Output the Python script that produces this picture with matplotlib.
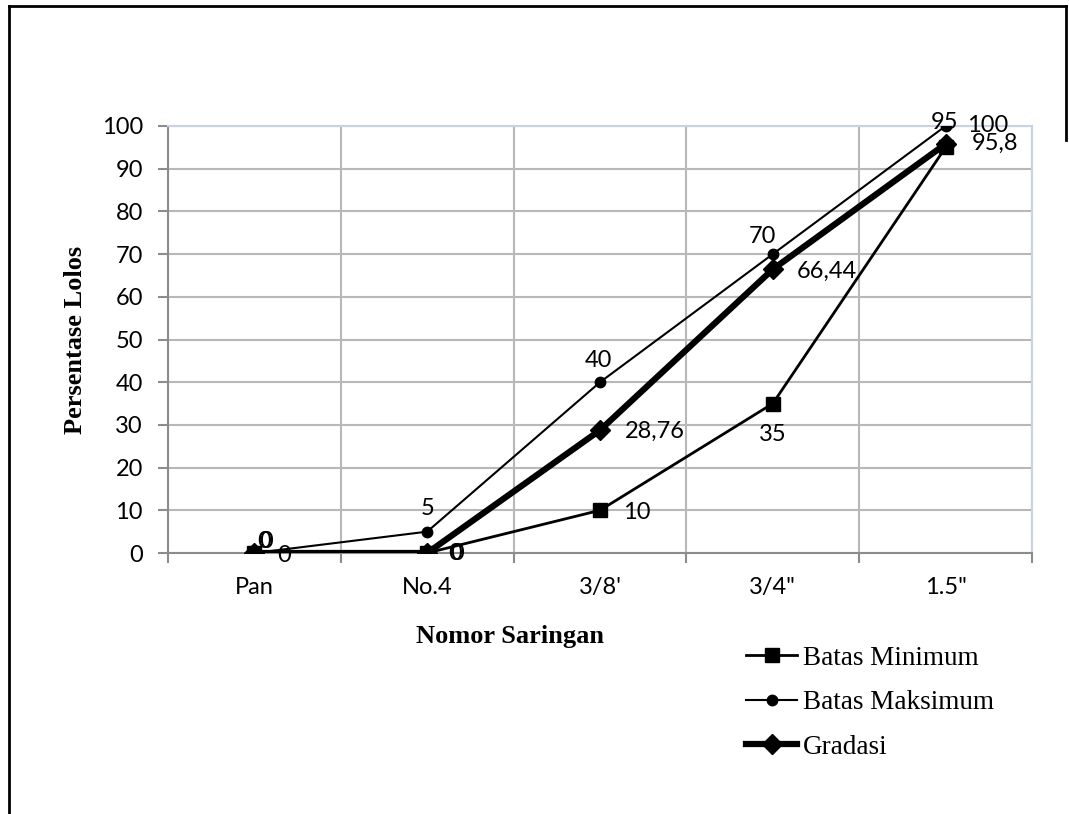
import matplotlib.pyplot as plt
from matplotlib.lines import Line2D

# ukuran saringan dan persentase lolos
saringan = ["Pan", "No.4", "3/8'", "3/4\"", "1.5\""]
batas_min = [0, 0, 10, 35, 95]
batas_max = [0, 5, 40, 70, 100]
gradasi = [0, 0, 28.76, 66.44, 95.8]

lbl_min = ["0", "0", "10", "35", "95"]
lbl_max = ["0", "5", "40", "70", "100"]
lbl_grad = ["0", "0", "28,76", "66,44", "95,8"]

SANS = "Lato"
SERIF = "Liberation Serif"
FS = 17

fig = plt.figure(figsize=(10.69, 8.14), dpi=100)
ax = fig.add_axes([168/1069, 1-553/814, 864/1069, 427/814])

x = list(range(len(saringan)))
ax.plot(x, batas_min, color="black", lw=2, marker="s", ms=10, label="Batas Minimum", zorder=4)
ax.plot(x, batas_max, color="black", lw=1.5, marker="o", ms=7.5, label="Batas Maksimum", zorder=4)
ax.plot(x, gradasi, color="black", lw=4.5, marker="D", ms=10, label="Gradasi", zorder=5)

# posisi label (offset pixel)
off_min = [(30, -2), (28, 0), (37, -2), (0, -31), (-1, 25)]
off_max = [(10, 12), (0, 23), (-2, 22), (-10, 18), (42, 1)]
off_grad = [(12, 12), (30, 0), (55, -1), (54, -2), (49, 1)]
for vals, lbls, offs in [(batas_min, lbl_min, off_min), (batas_max, lbl_max, off_max),
                         (gradasi, lbl_grad, off_grad)]:
    for i in x:
        ax.annotate(lbls[i], (i, vals[i]), xytext=offs[i], textcoords="offset pixels",
                    ha="center", va="center", fontsize=FS, family=SANS, zorder=6)

ax.set_xlim(-0.5, 4.5)
ax.set_ylim(0, 100)
ax.set_yticks(range(0, 101, 10))
ax.set_xticks([i - 0.5 for i in range(6)])
ax.set_xticklabels([])
ax.set_xticks(x, minor=True)
ax.set_xticklabels(saringan, minor=True)
ax.tick_params(axis="x", which="major", length=7, width=1.5, color="#8c8c8c", direction="out")
ax.tick_params(axis="x", which="minor", length=0, pad=17, labelsize=FS)
ax.tick_params(axis="y", length=7, width=1.5, color="#8c8c8c", pad=11, labelsize=FS)
for lab in ax.get_xticklabels(minor=True) + ax.get_yticklabels():
    lab.set_family(SANS)

ax.grid(True, which="major", color="#b8b8b8", lw=1.5)
ax.set_axisbelow(True)
for s in ["left", "bottom"]:
    ax.spines[s].set_color("#8c8c8c")
    ax.spines[s].set_linewidth(1.5)
for s in ["top", "right"]:
    ax.spines[s].set_color("#c9d2e3")
    ax.spines[s].set_linewidth(1.5)

fig.text(75/1069, 1-340/814, "Persentase Lolos", rotation=90, ha="center", va="center",
         fontsize=19, fontweight="bold", family=SERIF)
fig.text(510/1069, 1-636/814, "Nomor Saringan", ha="center", va="center",
         fontsize=19, fontweight="bold", family=SERIF)

leg = fig.legend(loc="upper left", bbox_to_anchor=(735/1069, 1-635/814), frameon=False,
                 prop={"family": SERIF, "size": 19.5}, handlelength=1.9, handletextpad=0.2,
                 labelspacing=0.72, borderaxespad=0)

# bingkai luar
fig.add_artist(Line2D([9/1069, 9/1069], [0, 1-6/814], color="black", lw=2))
fig.add_artist(Line2D([9/1069, 1066/1069], [1-6/814, 1-6/814], color="black", lw=2))
fig.add_artist(Line2D([1066/1069, 1066/1069], [1-6/814, 1-140/814], color="black", lw=2))

fig.savefig("out.png", dpi=100)
